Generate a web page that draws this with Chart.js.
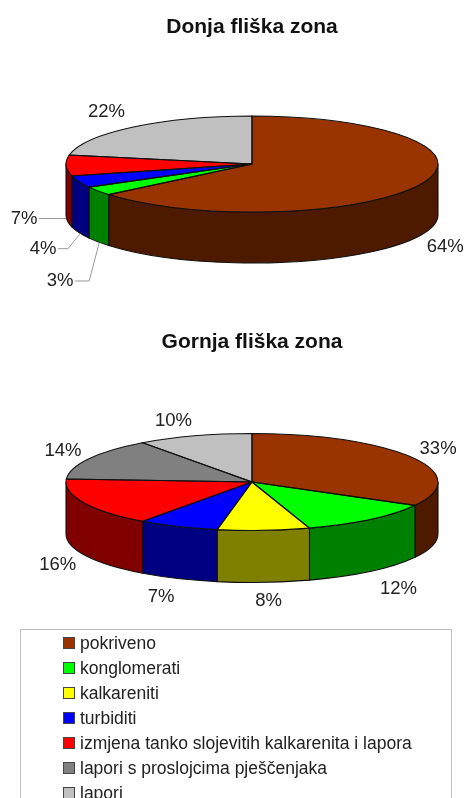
<!DOCTYPE html>
<html><head><meta charset="utf-8">
<style>
html,body{margin:0;padding:0;background:#fff;width:468px;height:798px;overflow:hidden;position:relative}
canvas{position:absolute;left:0;filter:blur(0.45px)}
#legend{position:absolute;left:20px;top:629px;width:432px;height:180px;border:1px solid #c0c0c0;box-sizing:border-box;font:17.5px "Liberation Sans",Arial,sans-serif;color:#222;filter:blur(0.45px)}
#legend div{position:absolute;left:59px;height:25px;line-height:25px;white-space:nowrap}
#legend i{position:absolute;left:-17px;top:6px;width:10px;height:10px;border:1px solid #444}
</style>
<script src="https://cdn.jsdelivr.net/npm/chart.js@4"></script>
</head><body>
<canvas id="upper" width="504" height="310" style="top:0"></canvas>
<canvas id="lower" width="504" height="310" style="top:315px"></canvas>
<div id="legend"></div>
<script>
const categories = ["pokriveno","konglomerati","kalkareniti","turbiditi","izmjena tanko slojevitih kalkarenita i lapora","lapori s proslojcima pješčenjaka","lapori"];
const topColors  = ["#993300","#00ff00","#ffff00","#0000ff","#ff0000","#808080","#c0c0c0"];
const sideColors = ["#4d1a00","#008000","#808000","#000080","#800000","#404040","#606060"];

const upperTitle = "Donja fliška zona";
const upperCategories = ["pokriveno","konglomerati","turbiditi","izmjena tanko slojevitih kalkarenita i lapora","lapori"];
const upperValues = [64,3,4,7,22];
const upperLabelOffsets = [[25,11],[-38,39],[-36,16],[-42,2],[-27,-15]];
const upperLeaderElbows = [null,29,25,0,null];

const lowerTitle = "Gornja fliška zona";
const lowerCategories = categories;
const lowerValues = [33,12,8,7,16,14,10];
const lowerLabelOffsets = [[26,-8],[28,18],[5,19],[-17,18],[-26,10],[-26,-8],[-21,-15]];
const lowerLeaderElbows = [null,null,null,null,null,null,null];

const FONT = '"Liberation Sans",Arial,sans-serif';
const TEXT = "#222222";

function tilt(view){
  return {
    id:"tilt",
    beforeDatasetsDraw(chart){
      const c=chart.ctx, arcs=chart.getDatasetMeta(0).data, {rx,ry,cy,depth}=view;
      const cx=arcs[0].x, ids=chart.data.datasets[0].sideColors;
      c.save();
      c.lineWidth=1.1; c.strokeStyle="#111";
      arcs.forEach((a,i)=>{
        const s=Math.max(a.startAngle,0), e=Math.min(a.endAngle,Math.PI);
        if(e<=s) return;
        c.beginPath();
        c.ellipse(cx,cy,rx,ry,0,s,e);
        c.ellipse(cx,cy+depth,rx,ry,0,e,s,true);
        c.closePath();
        c.fillStyle=ids[i]; c.fill(); c.stroke();
      });
      c.restore();
      c.save();
      c.translate(cx,cy); c.scale(1,ry/rx); c.translate(-cx,-arcs[0].y);
    },
    afterDatasetsDraw(chart){
      const c=chart.ctx, arcs=chart.getDatasetMeta(0).data, {rx,ry,cy,depth,offsets,elbows}=view;
      c.restore();
      const cx=arcs[0].x, vals=chart.data.datasets[0].data;
      c.save();
      c.lineWidth=1.1; c.strokeStyle="#111";
      arcs.forEach(a=>{
        c.beginPath();
        c.moveTo(cx,cy);
        c.ellipse(cx,cy,rx,ry,0,a.startAngle,a.endAngle);
        c.closePath();
        c.stroke();
      });
      c.font="18.5px "+FONT; c.textAlign="center"; c.textBaseline="middle";
      arcs.forEach((a,i)=>{
        const m=(a.startAngle+a.endAngle)/2;
        const front=Math.sin(m)>0;
        const ax=cx+rx*Math.cos(m), ay=cy+ry*Math.sin(m)+(front?depth:0);
        const lx=ax+offsets[i][0], ly=ay+offsets[i][1];
        if(elbows[i]!==null){
          c.beginPath(); c.strokeStyle="#9a9a9a"; c.lineWidth=1;
          if(elbows[i]){
            c.moveTo(ax+1,ay+1);
            c.lineTo(lx+elbows[i],ly);
            c.lineTo(lx+15,ly);
          } else {
            c.moveTo(ax,Math.round(ly)-0.5);
            c.lineTo(lx+15,Math.round(ly)-0.5);
          }
          c.stroke();
        }
        c.fillStyle=TEXT;
        c.fillText(vals[i]+"%",lx,ly);
      });
      c.restore();
    }
  };
}

function makePie(id,title,labels,values,offsets,elbows,cy,ry,depth){
  const rx=186;
  const colorOf=(arr)=>labels.map(l=>arr[categories.indexOf(l)]);
  return new Chart(document.getElementById(id),{
    type:"pie",
    data:{labels,datasets:[{data:values,backgroundColor:colorOf(topColors),sideColors:colorOf(sideColors),borderWidth:0,clip:false}]},
    options:{
      responsive:false,animation:false,radius:rx,
      layout:{padding:0},
      plugins:{
        legend:{display:false},tooltip:{enabled:false},
        title:{display:true,text:title,color:"#111",font:{family:FONT,size:21,weight:"bold"},padding:{top:15,bottom:0}}
      }
    },
    plugins:[tilt({rx,ry,cy,depth,offsets,elbows})]
  });
}
makePie("upper",upperTitle,upperCategories,upperValues,upperLabelOffsets,upperLeaderElbows,164,48,51);
makePie("lower",lowerTitle,lowerCategories,lowerValues,lowerLabelOffsets,lowerLeaderElbows,167,48.5,52);

const legend=document.getElementById("legend");
categories.forEach((name,i)=>{
  const row=document.createElement("div");
  row.style.top=(i*25+1)+"px";
  const sw=document.createElement("i"); sw.style.background=topColors[i];
  row.appendChild(sw); row.appendChild(document.createTextNode(name));
  legend.appendChild(row);
});
</script>
</body></html>
